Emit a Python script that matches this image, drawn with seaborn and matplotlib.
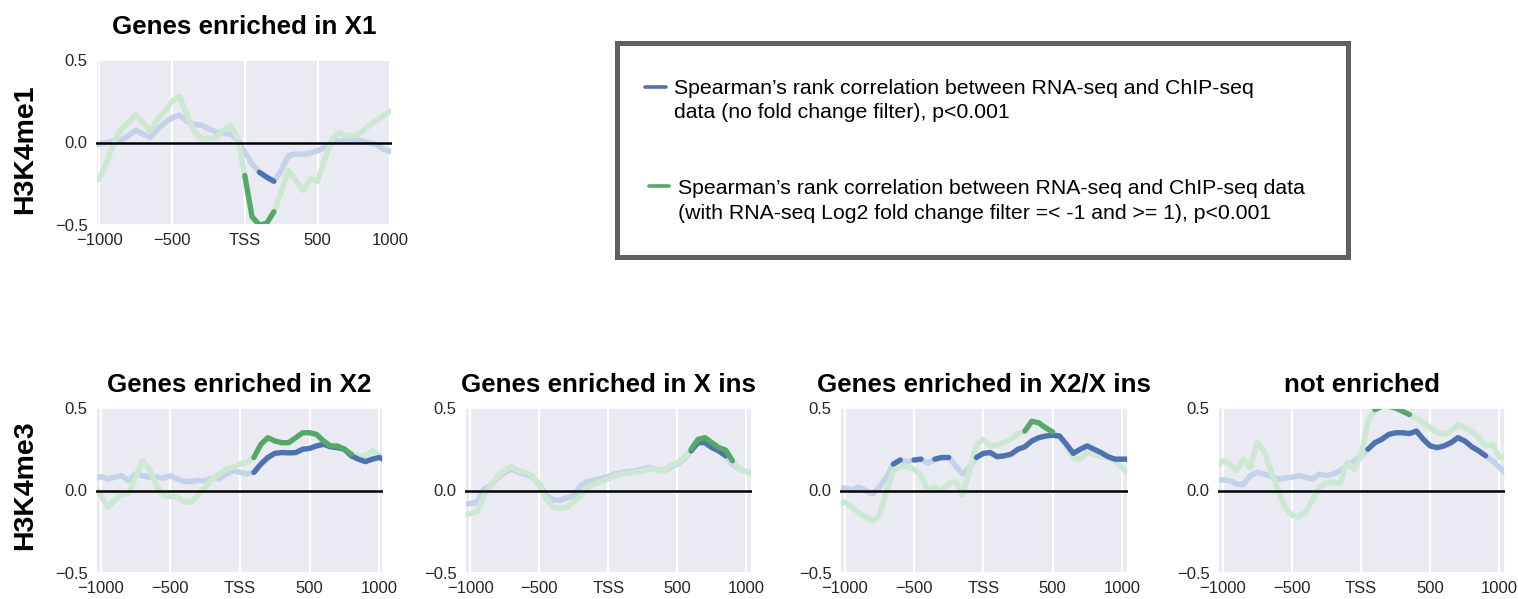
import numpy as np
import matplotlib.pyplot as plt
import seaborn as sns

# positions (bp around TSS)
positions = list(range(-1050, 1051, 50))

# H3K4me1 - Genes enriched in X1
x1_blue = [-0.02, -0.01, 0.0, 0.01, 0.015, 0.04, 0.075, 0.05, 0.03, 0.08,
           0.12, 0.15, 0.165, 0.13, 0.11, 0.105, 0.085, 0.065, 0.055, 0.05,
           0.02, -0.06, -0.13, -0.18, -0.21, -0.235, -0.17, -0.08, -0.07, -0.07,
           -0.065, -0.05, -0.03, 0.0, 0.01, 0.015, 0.015, 0.01, 0.0, -0.01,
           -0.04, -0.055, -0.055]
x1_green = [-0.24, -0.22, -0.12, 0.0, 0.08, 0.12, 0.17, 0.12, 0.07, 0.14,
            0.19, 0.25, 0.28, 0.17, 0.07, 0.025, 0.025, 0.03, 0.07, 0.105,
            0.03, -0.2, -0.45, -0.5, -0.49, -0.42, -0.3, -0.17, -0.23, -0.29,
            -0.22, -0.235, -0.1, 0.02, 0.06, 0.04, 0.04, 0.06, 0.1, 0.13,
            0.16, 0.19, 0.2]
x1_blue_sig = [(100, 200)]
x1_green_sig = [(0, 200)]

# H3K4me3 - Genes enriched in X2
x2_blue = [0.07, 0.085, 0.07, 0.08, 0.09, 0.06, 0.1, 0.09, 0.08, 0.08,
           0.075, 0.09, 0.07, 0.055, 0.055, 0.06, 0.06, 0.075, 0.07, 0.1,
           0.12, 0.11, 0.1, 0.11, 0.16, 0.2, 0.225, 0.23, 0.228, 0.23,
           0.25, 0.255, 0.27, 0.28, 0.265, 0.26, 0.25, 0.21, 0.19, 0.175,
           0.19, 0.2, 0.18]
x2_green = [0.02, -0.03, -0.1, -0.06, -0.02, -0.02, 0.08, 0.18, 0.13, 0.03,
            -0.03, -0.035, -0.04, -0.07, -0.07, -0.03, 0.02, 0.07, 0.1, 0.13,
            0.14, 0.16, 0.17, 0.2, 0.28, 0.32, 0.3, 0.29, 0.29, 0.32,
            0.35, 0.35, 0.34, 0.3, 0.27, 0.27, 0.25, 0.22, 0.21, 0.21,
            0.24, 0.21, 0.2]
x2_blue_sig = [(100, 1050)]
x2_green_sig = [(100, 800)]

# H3K4me3 - Genes enriched in X ins
xins_blue = [-0.08, -0.08, -0.07, 0.01, 0.03, 0.08, 0.11, 0.13, 0.11, 0.1,
             0.08, 0.04, -0.03, -0.055, -0.06, -0.045, -0.03, 0.03, 0.055, 0.06,
             0.075, 0.085, 0.1, 0.11, 0.115, 0.12, 0.13, 0.14, 0.125, 0.12,
             0.14, 0.16, 0.19, 0.24, 0.29, 0.29, 0.26, 0.24, 0.21, 0.16,
             0.13, 0.115, 0.1]
xins_green = [-0.15, -0.14, -0.13, -0.03, 0.03, 0.09, 0.12, 0.145, 0.12, 0.11,
              0.09, 0.03, -0.05, -0.1, -0.11, -0.1, -0.07, -0.03, 0.02, 0.04,
              0.055, 0.07, 0.09, 0.1, 0.105, 0.11, 0.12, 0.13, 0.125, 0.12,
              0.15, 0.17, 0.2, 0.25, 0.31, 0.32, 0.29, 0.26, 0.245, 0.18,
              0.13, 0.115, 0.1]
xins_blue_sig = [(600, 850)]
xins_green_sig = [(600, 900)]

# H3K4me3 - Genes enriched in X2/X ins
x2xins_blue = [0.015, 0.015, 0.005, 0.02, 0.0, -0.02, 0.02, 0.08, 0.16, 0.185,
               0.175, 0.185, 0.19, 0.165, 0.19, 0.2, 0.2, 0.15, 0.1, 0.14,
               0.2, 0.225, 0.23, 0.205, 0.21, 0.22, 0.25, 0.265, 0.3, 0.32,
               0.33, 0.335, 0.33, 0.28, 0.225, 0.25, 0.27, 0.25, 0.23, 0.205,
               0.19, 0.19, 0.19]
x2xins_green = [-0.08, -0.07, -0.1, -0.135, -0.16, -0.185, -0.15, -0.01, 0.12, 0.15,
                0.145, 0.13, 0.09, 0.0, 0.02, 0.0, 0.04, 0.057, -0.03, 0.12,
                0.28, 0.31, 0.27, 0.275, 0.29, 0.31, 0.345, 0.36, 0.42, 0.41,
                0.38, 0.355, 0.32, 0.27, 0.2, 0.19, 0.23, 0.22, 0.205, 0.2,
                0.18, 0.14, 0.1]
x2xins_blue_sig = [(-650, -600), (-500, -450), (-350, -250), (-50, 1050)]
x2xins_green_sig = [(300, 500)]

# H3K4me3 - not enriched
ne_blue = [0.06, 0.065, 0.06, 0.04, 0.035, 0.09, 0.11, 0.1, 0.085, 0.07,
           0.075, 0.08, 0.09, 0.08, 0.07, 0.1, 0.09, 0.1, 0.12, 0.15,
           0.18, 0.21, 0.25, 0.29, 0.31, 0.34, 0.35, 0.35, 0.345, 0.36,
           0.31, 0.27, 0.26, 0.27, 0.29, 0.32, 0.3, 0.265, 0.24, 0.21,
           0.18, 0.14, 0.1]
ne_green = [0.13, 0.18, 0.16, 0.12, 0.19, 0.14, 0.29, 0.24, 0.12, 0.0,
            -0.1, -0.15, -0.16, -0.13, -0.06, 0.02, 0.045, 0.05, 0.045, 0.17,
            0.13, 0.21, 0.42, 0.49, 0.51, 0.51, 0.5, 0.48, 0.46, 0.44,
            0.41, 0.38, 0.35, 0.34, 0.36, 0.4, 0.38, 0.36, 0.32, 0.27,
            0.28, 0.2, 0.21]
ne_blue_sig = [(50, 900)]
ne_green_sig = [(100, 350)]

tick_pos = [-1000, -500, 0, 500, 1000]
tick_labels = ["\u22121000", "\u2212500", "TSS", "500", "1000"]

legend_blue = ["Spearman\u2019s rank correlation between RNA-seq and ChIP-seq",
               "data (no fold change filter), p<0.001"]
legend_green = ["Spearman\u2019s rank correlation between RNA-seq and ChIP-seq data",
                "(with RNA-seq Log2 fold change filter =< -1 and >= 1), p<0.001"]

BLUE = "#4C72B0"
GREEN = "#55A868"
BLUE_FADED = "#C5D3EA"
GREEN_FADED = "#CDE8D2"

sns.set_theme(style="darkgrid")
plt.rcParams["font.family"] = ["Liberation Sans", "DejaVu Sans"]

W, H = 1518, 599
fig = plt.figure(figsize=(W / 100, H / 100), dpi=100)


def px_axes(left, top, right, bottom):
    return fig.add_axes([left / W, 1 - bottom / H, (right - left) / W, (bottom - top) / H])


def draw_panel(ax, blue, green, blue_sig, green_sig, title, xlim, title_y):
    x = np.array(positions)
    blue = np.array(blue)
    green = np.array(green)
    sns.lineplot(x=x, y=blue, ax=ax, color=BLUE_FADED, lw=4)
    sns.lineplot(x=x, y=green, ax=ax, color=GREEN_FADED, lw=4)
    for a, b in blue_sig:
        m = (x >= a) & (x <= b)
        sns.lineplot(x=x[m], y=blue[m], ax=ax, color=BLUE, lw=3.8)
    for a, b in green_sig:
        m = (x >= a) & (x <= b)
        sns.lineplot(x=x[m], y=green[m], ax=ax, color=GREEN, lw=3.8)
    ax.axhline(0, color="black", lw=1.8, zorder=5)
    ax.set_xlim(*xlim)
    ax.set_ylim(-0.5, 0.5)
    ax.set_xticks(tick_pos)
    ax.set_xticklabels(tick_labels)
    ax.set_yticks([-0.5, 0, 0.5])
    ax.set_yticklabels(["\u22120.5", "0.0", "0.5"])
    ax.yaxis.grid(False)
    ax.xaxis.grid(True, color="white", lw=1.6)
    ax.tick_params(axis="both", length=0, labelsize=12, colors="#262626")
    ax.tick_params(axis="y", pad=6)
    ax.tick_params(axis="x", pad=6)
    ax.set_xlabel("")
    ax.set_ylabel("")
    ax.text(0.5, title_y, title, transform=ax.transAxes, ha="center", va="center",
            fontsize=18.7, fontweight="bold", color="black")


# top row
ax_top = px_axes(96, 60, 392, 225)
draw_panel(ax_top, x1_blue, x1_green, x1_blue_sig, x1_green_sig,
           "Genes enriched in X1", (-1023, 1012), 1.2)

# bottom row
bottom_panels = [
    ((96, 383), x2_blue, x2_green, x2_blue_sig, x2_green_sig, "Genes enriched in X2", (-1034, 1027)),
    ((465, 752), xins_blue, xins_green, xins_blue_sig, xins_green_sig, "Genes enriched in X ins", (-1038, 1041)),
    ((840, 1128), x2xins_blue, x2xins_green, x2xins_blue_sig, x2xins_green_sig, "Genes enriched in X2/X ins", (-1035, 1045)),
    ((1218, 1505), ne_blue, ne_green, ne_blue_sig, ne_green_sig, "not enriched", (-1033, 1040)),
]
for (l, r), b, g, bs, gs, t, xl in bottom_panels:
    ax = px_axes(l, 408, r, 573)
    draw_panel(ax, b, g, bs, gs, t, xl, 1.14)

# row labels
fig.text(25 / W, 1 - 149 / H, "H3K4me1", rotation=90, ha="center", va="center",
         fontsize=20.5, fontweight="bold", color="black")
fig.text(25 / W, 1 - 485 / H, "H3K4me3", rotation=90, ha="center", va="center",
         fontsize=20.5, fontweight="bold", color="black")

# legend box (pixel coordinates inside)
lax = px_axes(617, 43, 1348, 257)
lax.set_xlim(617, 1348)
lax.set_ylim(257, 43)
lax.set_facecolor("white")
lax.grid(False)
lax.set_xticks([])
lax.set_yticks([])
for sp in lax.spines.values():
    sp.set_visible(True)
    sp.set_color("#606060")
    sp.set_linewidth(3.6)
sns.lineplot(x=[645, 666], y=[87, 87], ax=lax, color=BLUE, lw=2.6)
sns.lineplot(x=[649, 669], y=[186, 186], ax=lax, color=GREEN, lw=2.6)
lax.text(674, 89, legend_blue[0], fontsize=15.3, va="center", ha="left", color="black")
lax.text(674, 113, legend_blue[1], fontsize=15.3, va="center", ha="left", color="black")
lax.text(678, 188, legend_green[0], fontsize=15.3, va="center", ha="left", color="black")
lax.text(678, 213, legend_green[1], fontsize=15.3, va="center", ha="left", color="black")
lax.set_xlabel("")
lax.set_ylabel("")

plt.savefig("out.png", dpi=100)
